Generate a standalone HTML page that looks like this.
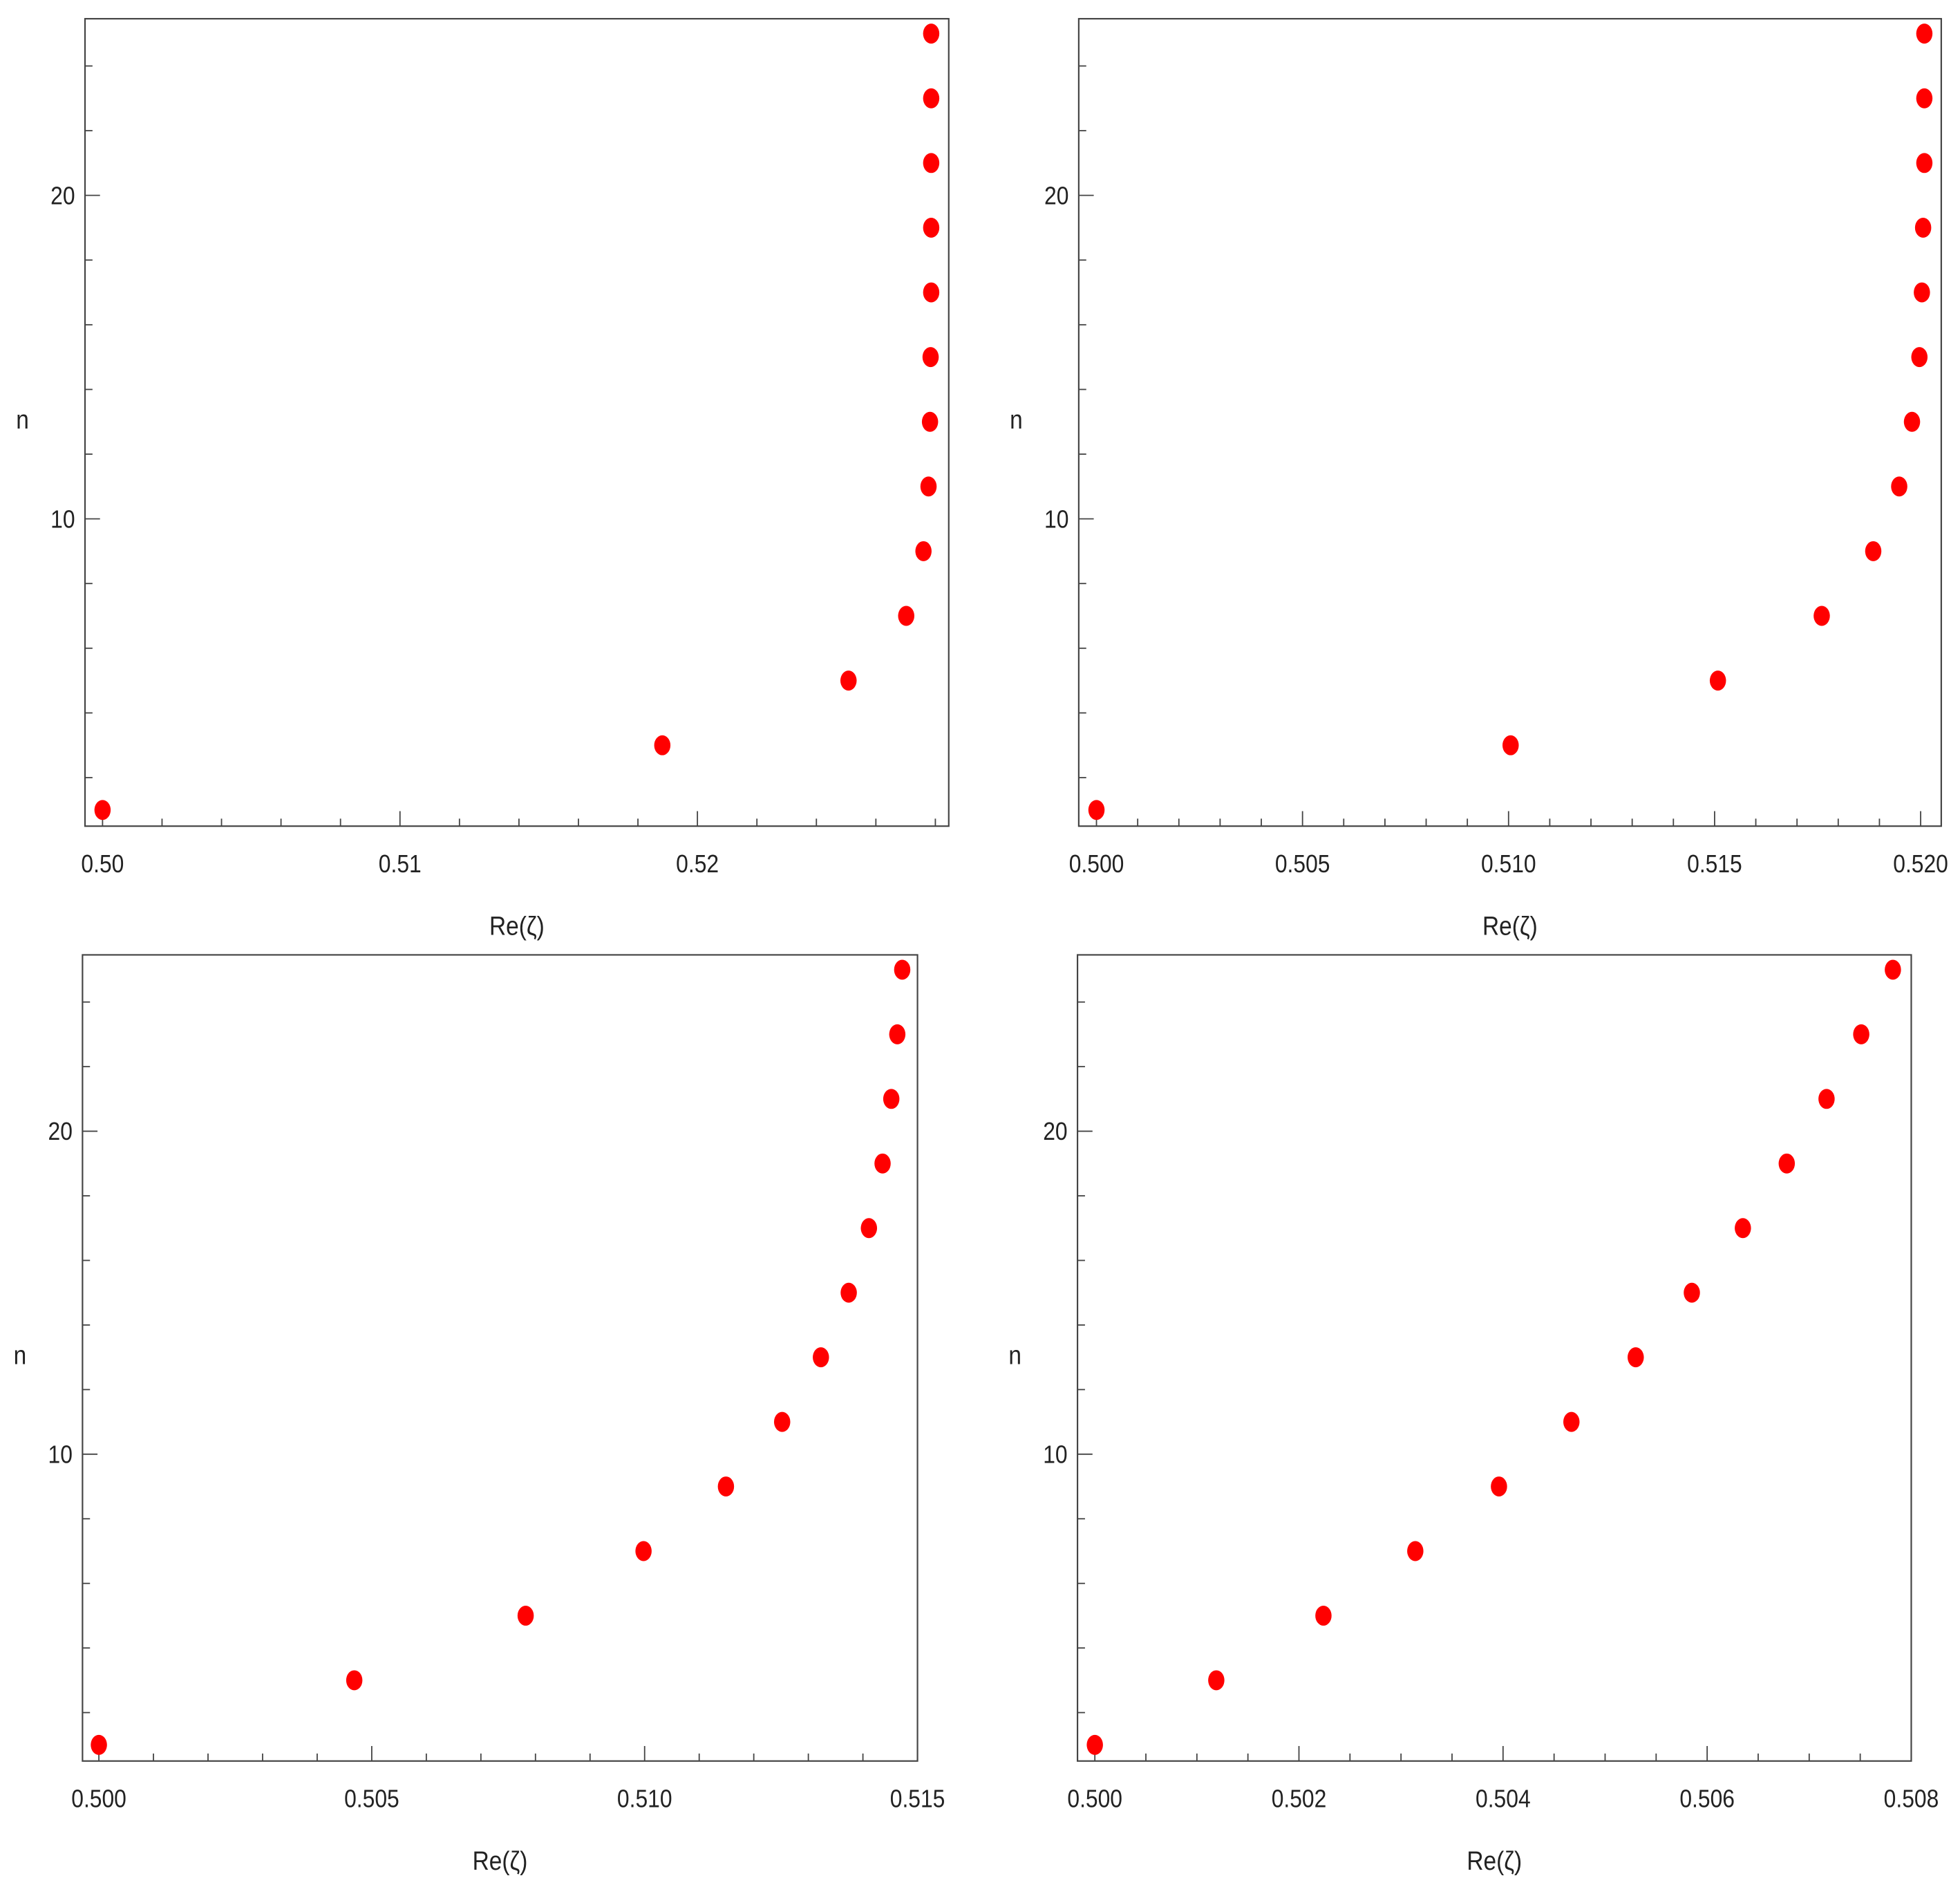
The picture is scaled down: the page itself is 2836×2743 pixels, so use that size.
<!DOCTYPE html>
<html><head><meta charset="utf-8"><style>
html,body{margin:0;padding:0;background:#fff;}
svg{display:block;}
text{font-family:"Liberation Sans",sans-serif;fill:#222;}
</style></head><body>
<svg id="chart" width="2836" height="2743" viewBox="0 0 1568 1517" preserveAspectRatio="none" xmlns="http://www.w3.org/2000/svg"></svg>
<script>
const nValues = [1,3,5,7,9,11,13,15,17,19,21,23,25];
const seriesA = [0.5,0.51882,0.52508,0.52702,0.5276,0.52777,0.52782,0.52784,0.52786,0.52786,0.52786,0.52786,0.52786];
const seriesB = [0.5,0.51005,0.51508,0.5176,0.51885,0.51948,0.51979,0.51997,0.52003,0.52006,0.52009,0.52009,0.52009];
const seriesC = [0.5,0.50468,0.50782,0.50998,0.51149,0.51252,0.51323,0.51374,0.51411,0.51436,0.51452,0.51463,0.51472];
const seriesD = [0.5,0.50119,0.50224,0.50314,0.50396,0.50467,0.5053,0.50585,0.50635,0.50678,0.50717,0.50751,0.50782];
const xTicksA = ["0.50","0.51","0.52"];
const xTicksB = ["0.500","0.505","0.510","0.515","0.520"];
const xTicksC = ["0.500","0.505","0.510","0.515"];
const xTicksD = ["0.500","0.502","0.504","0.506","0.508"];
const yTickLabels = ["10","20"];

const NS="http://www.w3.org/2000/svg";
const svg=document.getElementById('chart');
function mk(tag,attrs,parent){const e=document.createElementNS(NS,tag);for(const k in attrs)e.setAttribute(k,attrs[k]);(parent||svg).appendChild(e);return e;}
function txt(x,y,anchor,size,s,g){
 const t=mk('text',{x:0,y:0,'text-anchor':anchor,'font-size':size,transform:'translate('+x+','+y+') scale(0.88,1)'},g);
 t.textContent=s;return t;
}

const panels=[
 {name:'panel-top-left',x0:68,x1:759,y0:15,y1:661,xmin:0.49941,xmax:0.52845,ticks:xTicksA,minor:0.002,data:seriesA},
 {name:'panel-top-right',x0:863,x1:1553,y0:15,y1:661,xmin:0.49957,xmax:0.5205,ticks:xTicksB,minor:0.001,data:seriesB},
 {name:'panel-bottom-left',x0:66,x1:734,y0:764,y1:1409,xmin:0.4997,xmax:0.515,ticks:xTicksC,minor:0.001,data:seriesC},
 {name:'panel-bottom-right',x0:862,x1:1529,y0:764,y1:1409,xmin:0.49983,xmax:0.508,ticks:xTicksD,minor:0.0005,data:seriesD}
];
const ymin=0.5,ymax=25.46;
panels.forEach(p=>{
 const g=mk('g',{});
 
 
 const sx=v=>p.x0+(v-p.xmin)/(p.xmax-p.xmin)*(p.x1-p.x0);
 const sy=v=>p.y1-(v-ymin)/(ymax-ymin)*(p.y1-p.y0);
 const fr=mk('rect',{x:p.x0,y:p.y0,width:p.x1-p.x0,height:p.y1-p.y0,fill:'none',stroke:'#444','stroke-width':1.2},g);
 
 
 const first=Math.ceil(p.xmin/p.minor-1e-6);
 for(let k=first;k*p.minor<=p.xmax+1e-9;k++){
  const v=k*p.minor, x=sx(v);
  const major=p.ticks.some(t=>Math.abs(parseFloat(t)-v)<1e-7);
  const t=mk('line',{x1:x,x2:x,y1:p.y1,y2:p.y1-(major?12:6),stroke:'#444','stroke-width':1},g);
  
  
 }
 p.ticks.forEach(lbl=>{
  const t=txt(sx(parseFloat(lbl)),p.y1+37,'middle',20,lbl,g);
  
  
 });
 for(let v=2;v<=25;v+=2){
  const y=sy(v), major=(v%10===0);
  const t=mk('line',{x1:p.x0,x2:p.x0+(major?12:6),y1:y,y2:y,stroke:'#444','stroke-width':1},g);
  
  
 }
 yTickLabels.forEach(lbl=>{
  const t=txt(p.x0-8,sy(parseFloat(lbl))+7,'end',20,lbl,g);
  
  
 });
 const yl=txt(p.x0-50,(p.y0+p.y1)/2+5,'middle',21,'n',g);
 
 
 const xl=txt((p.x0+p.x1)/2,p.y1+87,'middle',21,'Re(ζ)',g);
 
 
 p.data.forEach((v,i)=>{
  const c=mk('ellipse',{cx:sx(v),cy:sy(nValues[i]),rx:6.5,ry:8,fill:'#ff0000'},g);
  
  
 });
});
</script>
</body></html>
